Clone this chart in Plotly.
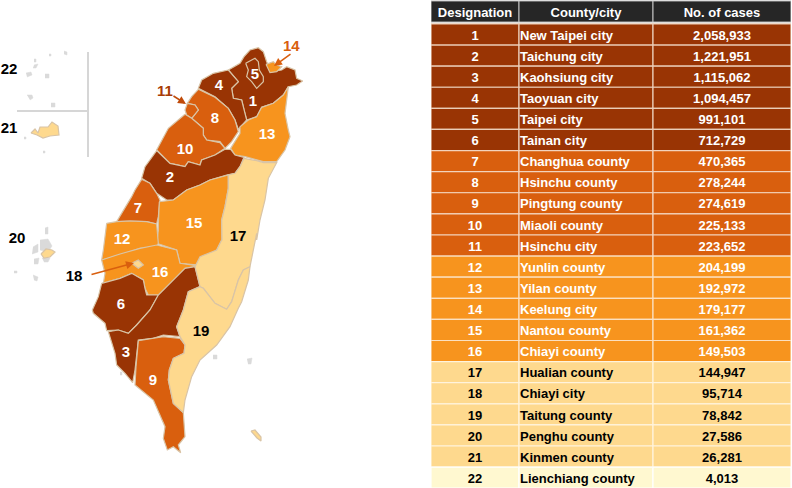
import plotly.graph_objects as go

# ---- table data ----
designation = list(range(1, 23))
county_city = ["New Taipei city", "Taichung city", "Kaohsiung city", "Taoyuan city", "Taipei city", "Tainan city",
               "Changhua county", "Hsinchu county", "Pingtung county", "Miaoli county", "Hsinchu city",
               "Yunlin county", "Yilan county", "Keelung city", "Nantou county", "Chiayi county",
               "Hualian county", "Chiayi city", "Taitung county", "Penghu county", "Kinmen county", "Lienchiang county"]
cases = ["2,058,933", "1,221,951", "1,115,062", "1,094,457", "991,101", "712,729", "470,365", "278,244", "274,619",
         "225,133", "223,652", "204,199", "192,972", "179,177", "161,362", "149,503", "144,947", "95,714", "78,842",
         "27,586", "26,281", "4,013"]
headers = ["Designation", "County/city", "No. of cases"]
class_of = [0]*6 + [1]*5 + [2]*5 + [3]*5 + [4]
class_colors = ["#993404", "#D95F0E", "#F7941E", "#FED98E", "#FFF8D0"]
class_text = ["white", "white", "white", "black", "black"]
line_colors = ["#EBCDB8", "#F3D3BC", "#FBE0C0", "#FFF3DC", "#FFFFFF"]
column_widths = [88, 134, 138]
header_row = -1.09
header_color = "#262626"
text_nudge = 0.09

# ---- map outlines (map units) ----
def a(pts):
    return [(100 + x / 3, 20 + y / 3) for x, y in pts]
def b(pts):
    return [(60 + x / 3, 230 + y / 3) for x, y in pts]

r1 = a([(385,150),(420,130),(432,110),(450,90),(475,83),(490,95),(500,125),(515,155),(545,150),(560,140),(585,150),
        (590,175),(608,183),(590,195),(565,200),(550,225),(520,250),(485,262),(470,290),(440,300),(432,270),(425,240),
        (400,235),(395,205),(415,185)])
r5 = a([(437,130),(465,115),(475,125),(478,150),(490,170),(490,185),(470,205),(455,185),(440,170),(445,150)])
r14 = a([(498,133),(520,125),(530,135),(545,140),(530,155),(510,158)])
r4 = a([(385,150),(415,185),(395,205),(400,235),(425,240),(432,270),(440,300),(415,328),(405,300),(385,265),(345,230),
        (295,205),(305,180),(340,160)])
r8 = a([(295,208),(345,232),(385,265),(405,300),(415,335),(395,365),(375,385),(360,365),(320,360),(310,345),(310,325),
        (275,295),(295,270),(285,255),(262,250),(275,230)])
r11 = a([(262,250),(285,255),(295,270),(275,295),(260,285),(255,270)])
r10 = a([(255,283),(275,295),(310,325),(310,345),(320,360),(360,368),(375,385),(345,405),(305,420),(300,435),(265,425),
         (255,440),(210,430),(170,390),(205,325)])
r13 = a([(565,200),(560,240),(555,280),(565,330),(570,350),(555,390),(530,425),(490,425),(470,420),(435,410),(405,405),
         (392,385),(420,340),(420,320),(445,300),(470,290),(485,262),(520,250),(550,225)])
r2 = a([(170,392),(210,430),(255,440),(265,425),(300,435),(305,420),(345,405),(375,388),(392,388),(405,405),(432,412),
        (420,440),(405,460),(380,465),(330,480),(300,495),(260,510),(220,540),(200,540),(170,520),(150,490),(125,475),(135,440)])
r7 = a([(125,478),(150,490),(170,520),(180,540),(175,590),(170,612),(140,605),(90,603),(50,605),(75,565),(95,530),(105,510)])
r15 = a([(178,545),(220,540),(260,510),(300,495),(330,480),(385,465),(385,505),(375,560),(365,600),(366,660)]) + \
      b([(485,30),(470,60),(430,90),(415,105),(360,100),(350,60),(290,40),(295,0)]) + a([(175,612)])
r12 = a([(20,610),(50,605),(90,603),(140,605),(170,612)]) + \
      b([(295,40),(290,50),(240,55),(180,75),(125,90),(130,60),(135,20)])
r16 = b([(125,90),(180,72),(240,55),(290,45),(350,60),(360,100),(415,108),(375,115),(345,145),(295,195),(265,195),
         (255,175),(250,150),(215,130),(180,145),(130,160),(135,130)])
r18 = b([(215,100),(235,90),(250,105),(235,115)])
r6 = b([(125,160),(180,145),(215,130),(250,150),(255,175),(260,195),(295,195),(270,240),(230,285),(205,310),(175,300),
        (140,302),(135,280),(100,250),(97,240),(115,200)])
r3 = b([(405,110),(415,150),(420,170),(385,185),(370,240),(350,290),(360,320),(310,315),(280,325),(235,330),(225,420),
        (218,458),(195,430),(170,405),(165,370),(145,305),(175,300),(205,310),(230,285),(270,240),(295,195),(345,145),(375,115)])
r9 = b([(235,332),(280,325),(310,320),(360,325),(375,345),(372,370),(340,385),(328,420),(325,450),(340,520),(370,548),
        (375,620),(355,645),(362,668),(340,650),(322,660),(310,625),(315,590),(280,510),(225,465),(228,410)])
r17 = a([(432,415),(470,422),(490,428),(530,428),(505,475),(495,540),(480,600),(470,660)]) + \
      b([(590,10),(575,90),(570,110),(550,120),(535,150),(515,215),(500,238),(465,220),(430,175),(420,170),(415,150),
         (405,110),(420,80),(470,60),(485,30)]) + a([(366,660),(365,600),(375,560),(385,505),(385,465),(405,460),(420,440)])
r19 = b([(420,170),(430,175),(465,220),(500,238),(515,215),(535,150),(550,120),(570,110),(565,150),(545,215),(535,235),
         (510,290),(470,345),(420,390),(395,440),(375,510),(370,548),(340,520),(325,450),(328,420),(340,385),(372,370),
         (375,345),(360,320),(350,290),(370,240),(385,185)])
kinmen = [(31,133),(35,129),(38,133),(40,127),(48,127),(52,122),(58,126),(59,135),(50,136),(43,138),(37,135)]
penghu_main = [(41,254),(46,249),(52,250),(55,252),(50,257),(44,258)]
grey_islands = [
    [(64,51),(67,52),(67,55),(64,54)], [(49,54),(51,54),(51,56),(49,56)], [(34,59),(36,59),(36,62),(34,62)],
    [(34,65),(38,64),(36,68),(33,68)], [(26,73),(31,72),(32,75),(27,77)], [(45,74),(49,74),(49,78),(45,78)],
    [(27,95),(32,95),(33,98),(30,100)], [(51,103),(55,103),(55,107),(51,107)], [(24,137),(26,137),(26,139),(24,139)],
    [(43,151),(45,151),(45,153),(43,153)],
    [(45,228),(48,227),(48,234),(45,234)], [(40,240),(48,239),(52,246),(48,252),(40,250)],
    [(33,247),(38,244),(38,252),(32,254)], [(34,259),(39,258),(38,264),(34,264)], [(14,271),(17,271),(17,273),(14,273)],
    [(33,275),(38,277),(37,281),(34,280)], [(42,258),(50,258),(48,262),(44,262)],
    [(247,359),(252,358),(251,364),(248,364)], [(213,355),(217,355),(217,359),(213,359)], [(120,372),(122,372),(122,375),(120,375)],
]
lanyu = [(251,431),(255,430),(261,437),(261,441),(257,438)]

regions = [
    (r1, 0), (r4, 0), (r8, 1), (r11, 1), (r10, 1), (r13, 2), (r2, 0), (r7, 1), (r15, 2), (r12, 2), (r16, 2),
    (r6, 0), (r3, 0), (r9, 1), (r17, 3), (r19, 3), (r5, 0), (r14, 2), (r18, 3), (kinmen, 3), (penghu_main, 3), (lanyu, 3),
]

# ---- region labels ----
lab_dark = ["1", "5", "4", "8", "10", "13", "2", "7", "15", "12", "16", "6", "3", "9"]
lab_dark_x = [253, 255, 219, 215, 185, 267, 170, 138, 194, 122, 160, 121, 126, 153]
lab_dark_y = [102, 75, 86, 119, 150, 135, 178, 209, 224, 240, 273, 305, 353, 381]
lab_black = ["17", "19", "22", "21", "20", "18"]
lab_black_x = [238, 201, 9, 9, 17, 74]
lab_black_y = [237, 332, 70, 129, 239, 277]

FONT = "Liberation Sans"
fig = go.Figure()

for poly in grey_islands:
    fig.add_trace(go.Scatter(x=[p[0] for p in poly], y=[p[1] for p in poly], mode="lines", fill="toself",
                             fillcolor="#DADADA", line=dict(color="#DADADA", width=0.5), hoverinfo="skip"))
for poly, cls in regions:
    xs = [p[0] for p in poly] + [poly[0][0]]
    ys = [p[1] for p in poly] + [poly[0][1]]
    fig.add_trace(go.Scatter(x=xs, y=ys, mode="lines", fill="toself", fillcolor=class_colors[cls],
                             line=dict(color="#D9C4A6", width=1.2), hoverinfo="skip"))

fig.add_trace(go.Scatter(x=lab_dark_x, y=lab_dark_y, mode="text", text=[f"<b>{t}</b>" for t in lab_dark],
                         textfont=dict(family=FONT, size=15, color="white"), hoverinfo="skip"))
fig.add_trace(go.Scatter(x=lab_black_x, y=lab_black_y, mode="text", text=[f"<b>{t}</b>" for t in lab_black],
                         textfont=dict(family=FONT, size=15, color="black"), hoverinfo="skip"))

# ---- table drawn as stacked horizontal bars on its own axes ----
rows = list(range(len(designation)))
starts = [sum(column_widths[:i]) for i in range(3)]
body_colors = [class_colors[c] for c in class_of]
body_lines = [line_colors[c] for c in class_of]
text_colors = [class_text[c] for c in class_of]
columns = [designation, county_city, cases]
for i in range(3):
    fig.add_trace(go.Bar(
        orientation="h", y=rows, x=[column_widths[i]] * len(rows), base=starts[i], width=1,
        marker=dict(color=body_colors, line=dict(color=body_lines, width=1.2)),
        xaxis="x2", yaxis="y2", hoverinfo="skip"))
    fig.add_trace(go.Bar(
        orientation="h", y=[header_row], x=[column_widths[i]], base=starts[i], width=1,
        marker=dict(color=header_color, line=dict(color="#C4C4C4", width=1)),
        xaxis="x2", yaxis="y2", hoverinfo="skip"))
    align_left = i == 1
    tx = starts[i] + 1 if align_left else starts[i] + column_widths[i] / 2
    fig.add_trace(go.Scatter(
        x=[tx] * len(rows), y=[r + text_nudge for r in rows], mode="text", text=[f"<b>{v}</b>" for v in columns[i]],
        textposition="middle right" if align_left else "middle center",
        textfont=dict(family=FONT, size=13, color=text_colors), xaxis="x2", yaxis="y2", hoverinfo="skip"))
    fig.add_trace(go.Scatter(
        x=[starts[i] + column_widths[i] / 2], y=[header_row + text_nudge], mode="text", text=[f"<b>{headers[i]}</b>"],
        textposition="middle center", textfont=dict(family=FONT, size=13, color="white"),
        xaxis="x2", yaxis="y2", hoverinfo="skip"))

def arrow(x, y, ax, ay, color):
    fig.add_annotation(x=x, y=y, ax=ax, ay=ay, xref="x", yref="y", axref="x", ayref="y", text="", showarrow=True,
                       arrowhead=2, arrowsize=1, arrowwidth=1.6, arrowcolor=color)

arrow(186, 104, 172, 95, "#C04A08")
arrow(274, 66, 292, 53, "#D95F0E")
arrow(134, 263, 90, 275, "#D95F0E")
fig.add_annotation(x=165, y=90, xref="x", yref="y", text="<b>11</b>", showarrow=False,
                   font=dict(family=FONT, size=15, color="#A83C06"))
fig.add_annotation(x=291, y=45, xref="x", yref="y", text="<b>14</b>", showarrow=False,
                   font=dict(family=FONT, size=15, color="#D95F0E"))

fig.add_shape(type="line", x0=88, x1=88, y0=52, y1=157, line=dict(color="#D6D6D6", width=2))
fig.add_shape(type="line", x0=17, x1=88, y0=111, y1=111, line=dict(color="#D6D6D6", width=2))

fig.update_layout(
    width=792, height=488, margin=dict(l=0, r=0, t=0, b=0), showlegend=False, barmode="overlay",
    paper_bgcolor="white", plot_bgcolor="rgba(0,0,0,0)",
    xaxis=dict(range=[0, 792], visible=False, fixedrange=True),
    yaxis=dict(range=[488, 0], visible=False, fixedrange=True),
    xaxis2=dict(domain=[431/792, 791/792], range=[0, 360], visible=False, fixedrange=True, anchor="y2"),
    yaxis2=dict(domain=[0, 1], range=[21.49, -1.635], visible=False, fixedrange=True, anchor="x2"),
)
fig.write_html("out.html", post_script="document.body.style.margin='0';", config={"displayModeBar": False})
